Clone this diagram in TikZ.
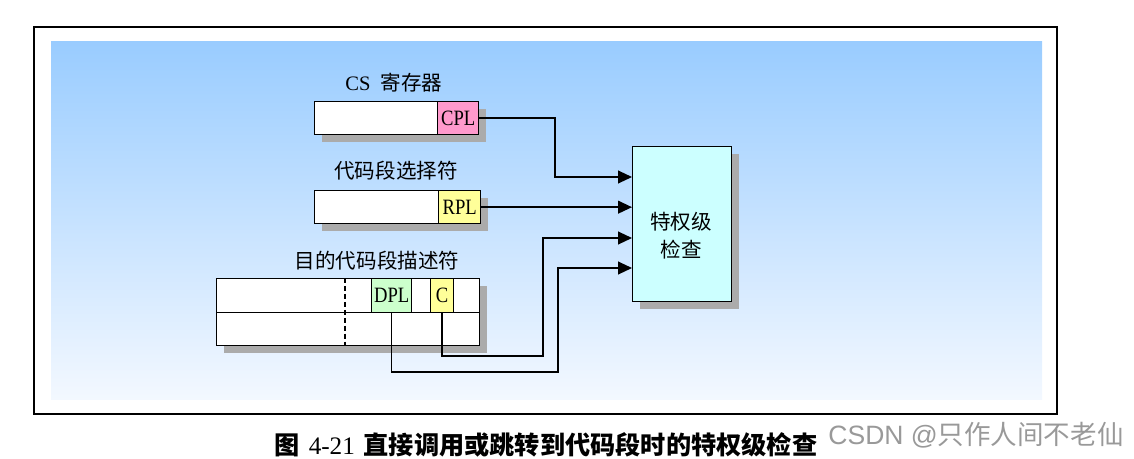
\documentclass[tikz,border=0pt]{standalone}
\usepackage{fontspec}
\setmainfont{Liberation Serif}
\setsansfont{Liberation Sans}
\newfontfamily\cjk{Noto Sans CJK SC}
\newfontfamily\narrowserif[FakeStretch=0.85]{Liberation Serif}
\usetikzlibrary{arrows.meta,shadows}
\newcommand\unitpx{0.0265cm}

\begin{document}
\begin{tikzpicture}[x=\unitpx, y=-\unitpx,
	field/.style={draw, line width=1pt, inner sep=0pt, anchor=north west},
	shade box/.style={general shadow={fill=black!33, shadow xshift=0.185cm, shadow yshift=-0.185cm}},
	flow/.style={line width=1.1pt, -{Triangle[length=3.7mm,width=3.4mm]}},
	tag/.style={font=\fontsize{15.5}{18}\selectfont},
	bits/.style={font=\narrowserif\fontsize{16.5}{18}\selectfont}]
	\definecolor{cplpink}{RGB}{255,153,204}
	\definecolor{rplyellow}{RGB}{255,255,153}
	\definecolor{dplgreen}{RGB}{204,255,204}
	\definecolor{chkcyan}{RGB}{204,255,255}
	\definecolor{bgtop}{RGB}{153,204,255}
	\definecolor{bgbottom}{RGB}{243,248,255}
	
	\useasboundingbox (0,0) rectangle (1134,458);
	\shade[top color=bgtop, bottom color=bgbottom] (51,41) rectangle (1042,399);
	\draw[line width=1.6pt] (34,27) rectangle (1057,414);
	
	% CS register
	\node[field, shade box, fill=white, minimum width=164*\unitpx, minimum height=33*\unitpx] (csreg) at (314,101) {};
	\node[field, fill=cplpink, bits, minimum width=41*\unitpx, minimum height=33*\unitpx] (cpl) at (437,101) {CPL};
	\node[tag] (cslabel) at (394,83) {CS\ \ {\cjk 寄存器}};
	
	% selector
	\node[field, shade box, fill=white, minimum width=166*\unitpx, minimum height=33*\unitpx] (selreg) at (314,190) {};
	\node[field, fill=rplyellow, bits, minimum width=42*\unitpx, minimum height=33*\unitpx] (rpl) at (438,190) {RPL};
	\node[tag] (sellabel) at (396,171) {\cjk 代码段选择符};
	
	% descriptor
	\node[field, shade box, fill=white, minimum width=263*\unitpx, minimum height=67*\unitpx] (descreg) at (216,278) {};
	\draw[line width=1pt] (descreg.west) -- (descreg.east);
	\draw[line width=1.2pt, dash pattern=on 3.7pt off 2.3pt] (345,278) -- (345,345);
	\node[field, fill=dplgreen, bits, minimum width=40*\unitpx, minimum height=34*\unitpx] (dpl) at (371,278) {DPL};
	\node[field, fill=rplyellow, bits, minimum width=23*\unitpx, minimum height=34*\unitpx] (cbit) at (430,278) {C};
	\node[tag] (desclabel) at (377,261) {\cjk 目的代码段描述符};
	
	% check
	\node[field, shade box, fill=chkcyan, minimum width=99*\unitpx, minimum height=155*\unitpx] (chk) at (632,146) {};
	\node[align=center, font=\fontsize{15.5}{21}\selectfont\cjk] (chktext) at (681,236) {特权级\\检查};
	
	\coordinate (in1) at (600,177);
	\coordinate (in3) at (600,238);
	\coordinate (in4) at (600,268);
	\draw[flow] (cpl.east) -| (555,177) -- (chk.west |- in1);
	\draw[flow] (rpl.east) -- (chk.west |- rpl.east);
	\draw[flow] (cbit.south) |- (543,356) |- (chk.west |- in3);
	\draw[flow] (dpl.south) |- (558,372) |- (chk.west |- in4);
	
	\node[inner sep=0pt, font=\fontsize{19}{22}\selectfont] (caption) at (546,445) {{\cjk\bfseries 图}\hspace{0.35em}4-21\hspace{0.35em}{\cjk\bfseries 直接调用或跳转到代码段时的特权级检查}};
	\node[inner sep=0pt, font=\fontsize{20}{24}\selectfont, text=black!40] (mark) at (976,435) {{\sffamily CSDN @}{\cjk 只作人间不老仙}};
	
\end{tikzpicture}
\end{document}
